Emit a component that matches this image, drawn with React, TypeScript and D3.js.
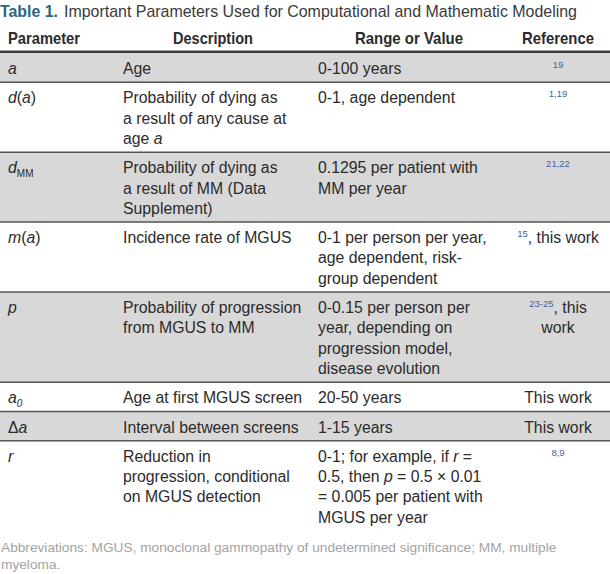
import React from "react";
import * as d3 from "d3";

// ---- Data ----
const titleLabel = "Table 1.";
const titleText = "Important Parameters Used for Computational and Mathematic Modeling";
const headers = ["Parameter", "Description", "Range or Value", "Reference"];
const params = ["*a*", "*d*(*a*)", "*d*_MM_", "*m*(*a*)", "*p*", "*a*~0~", "Δ*a*", "*r*"];
const descriptions = [
  ["Age"],
  ["Probability of dying as", "a result of any cause at", "age *a*"],
  ["Probability of dying as", "a result of MM (Data", "Supplement)"],
  ["Incidence rate of MGUS"],
  ["Probability of progression", "from MGUS to MM"],
  ["Age at first MGUS screen"],
  ["Interval between screens"],
  ["Reduction in", "progression, conditional", "on MGUS detection"],
];
const ranges = [
  ["0-100 years"],
  ["0-1, age dependent"],
  ["0.1295 per patient with", "MM per year"],
  ["0-1 per person per year,", "age dependent, risk-", "group dependent"],
  ["0-0.15 per person per", "year, depending on", "progression model,", "disease evolution"],
  ["20-50 years"],
  ["1-15 years"],
  ["0-1; for example, if *r* =", "0.5, then *p* = 0.5 × 0.01", "= 0.005 per patient with", "MGUS per year"],
];
const references = [
  ["^19^"],
  ["^1,19^"],
  ["^21,22^"],
  ["^15^, this work"],
  ["^23-25^, this", "work"],
  ["This work"],
  ["This work"],
  ["^8,9^"],
];
const footnoteLines = [
  "Abbreviations: MGUS, monoclonal gammopathy of undetermined significance; MM, multiple",
  "myeloma.",
];

// ---- Styling / layout ----
const W = 610;
const H = 574;
const BODY_FONT = "'Liberation Sans', Arial, sans-serif";
const TEXT = "#2b2b2b";
const GRAY_ROW = "#d8d8d8";
const RULE = "#555555";
const REF_BLUE = "#4561a0";
const LINE_H = 20.3;
const PAD = 9;
const TABLE_TOP = 53;
const colX = [8, 123, 318];
const refCenter = 558;
// header layout: [x, anchor, width]
const headerLayout: [number, "start" | "middle", number][] = [
  [8, "start", 72],
  [213, "middle", 80],
  [409, "middle", 108],
  [558, "middle", 72],
];

type Seg = { t: string; kind: "n" | "i" | "sub" | "subi" | "sup" };

function parse(s: string): Seg[] {
  const parts = s.split(/(\*[^*]+\*|_[^_]+_|~[^~]+~|\^[^^]+\^)/).filter((p) => p.length);
  return parts.map((p) => {
    if (p.startsWith("*")) return { t: p.slice(1, -1), kind: "i" };
    if (p.startsWith("_")) return { t: p.slice(1, -1), kind: "sub" };
    if (p.startsWith("~")) return { t: p.slice(1, -1), kind: "subi" };
    if (p.startsWith("^")) return { t: p.slice(1, -1), kind: "sup" };
    return { t: p, kind: "n" };
  });
}

function RichLine({ s, x, y, anchor = "start" }: { s: string; x: number; y: number; anchor?: string }) {
  const segs = parse(s);
  const out: React.ReactNode[] = [];
  let shift = 0;
  segs.forEach((sg, i) => {
    let target = 0;
    const props: any = {};
    if (sg.kind === "i") props.fontStyle = "italic";
    if (sg.kind === "sub" || sg.kind === "subi") {
      target = 4;
      props.fontSize = 10;
      if (sg.kind === "subi") props.fontStyle = "italic";
    }
    if (sg.kind === "sup") {
      target = -6;
      props.fontSize = 9.5;
      props.fill = REF_BLUE;
    }
    const dy = target - shift;
    shift = target;
    out.push(
      <tspan key={i} dy={dy || undefined} {...props}>
        {sg.t}
      </tspan>
    );
  });
  return (
    <text x={x} y={y} textAnchor={anchor as any} fontFamily={BODY_FONT} fontSize={15.8} fill={TEXT} xmlSpace="preserve">
      {out}
    </text>
  );
}

export default function App() {
  const nLines = params.map((_, i) =>
    Math.max(1, descriptions[i].length, ranges[i].length, references[i].length)
  );
  const heights = nLines.map((n) => n * LINE_H + PAD);
  const tops = [TABLE_TOP, ...Array.from(d3.cumsum(heights)).map((c) => TABLE_TOP + c)];
  const tableBottom = tops[tops.length - 1];

  return (
    <svg
      width={W}
      height={H}
      viewBox={`0 0 ${W} ${H}`}
      style={{ position: "absolute", left: 0, top: 0, background: "#fff" }}
    >
      {/* Title */}
      <text x={0} y={17} fontFamily={BODY_FONT} fontSize={17} fontWeight="bold" fill="#2b6580"
        textLength={58} lengthAdjust="spacingAndGlyphs">
        {titleLabel}
      </text>
      <text x={64} y={17} fontFamily={BODY_FONT} fontSize={17} fill="#3a3a3a"
        textLength={513} lengthAdjust="spacingAndGlyphs">
        {titleText}
      </text>

      {/* Header */}
      <g fontFamily={BODY_FONT} fontWeight="bold" fontSize={17} fill={TEXT}>
        {headers.map((h, i) => (
          <text key={h} x={headerLayout[i][0]} y={44} textAnchor={headerLayout[i][1]}
            textLength={headerLayout[i][2]} lengthAdjust="spacingAndGlyphs">
            {h}
          </text>
        ))}
      </g>

      {/* Row backgrounds */}
      {params.map((_, i) =>
        i % 2 === 0 ? (
          <rect key={"bg" + i} x={0} y={tops[i]} width={W} height={heights[i]} fill={GRAY_ROW} />
        ) : null
      )}

      {/* Row rules */}
      {tops.slice(1, -1).map((y, i) => (
        <line key={"r" + i} x1={0} x2={W} y1={y} y2={y} stroke={RULE} strokeWidth={1.5} />
      ))}
      <line x1={0} x2={W} y1={TABLE_TOP - 1.2} y2={TABLE_TOP - 1.2} stroke="#3d3d3d" strokeWidth={2.6} />

      {/* Cells */}
      {params.map((p, i) => {
        const base = tops[i] + 21;
        return (
          <g key={"row" + i}>
            <RichLine s={p} x={colX[0]} y={base} />
            {descriptions[i].map((l, j) => (
              <RichLine key={"d" + j} s={l} x={colX[1]} y={base + j * LINE_H} />
            ))}
            {ranges[i].map((l, j) => (
              <RichLine key={"v" + j} s={l} x={colX[2]} y={base + j * LINE_H} />
            ))}
            {references[i].map((l, j) => (
              <RichLine key={"f" + j} s={l} x={refCenter} y={base + j * LINE_H} anchor="middle" />
            ))}
          </g>
        );
      })}

      {/* Footnote */}
      {footnoteLines.map((l, i) => (
        <text key={"fn" + i} x={1} y={tableBottom + 21 + i * 17} fontFamily={BODY_FONT} fontSize={13.7} fill="#a3a3a3">
          {l}
        </text>
      ))}
    </svg>
  );
}
